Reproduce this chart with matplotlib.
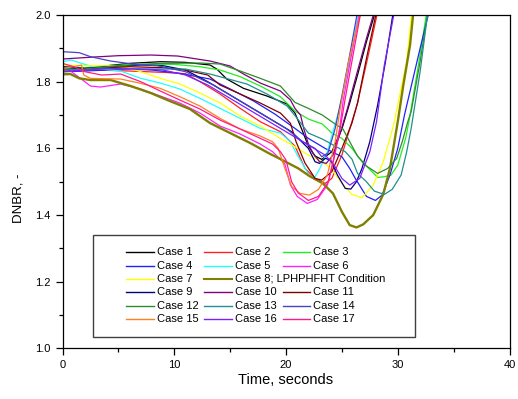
#!/usr/bin/env python3
"""
DNBR transient for the 17 analysed cases.
"""
import matplotlib

matplotlib.use("Agg")
import matplotlib.pyplot as plt
from matplotlib.lines import Line2D
from matplotlib.patches import Rectangle
from matplotlib.ticker import MultipleLocator

plt.rcParams["font.family"] = ["Liberation Sans", "DejaVu Sans"]

# values (time in s, DNBR)
case1_t = [0, 2, 4, 6, 8.8, 11, 13.2, 13.8, 14.7, 16.2, 18.3, 20.1, 20.8, 21.4, 22.0, 22.6, 23.2, 24.1, 25.0, 25.7, 26.4, 27.2, 28.0]
case1_d = [1.842, 1.838, 1.848, 1.855, 1.860, 1.858, 1.850, 1.838, 1.808, 1.780, 1.757, 1.733, 1.706, 1.658, 1.607, 1.577, 1.567, 1.590, 1.658, 1.736, 1.820, 1.920, 2.010]

case2_t = [0, 3, 6, 9, 11, 12.3, 14.1, 15.9, 17.7, 19.5, 20.8, 21.7, 22.6, 23.5, 24.1, 25.0, 25.7, 26.4, 27.3, 28.2]
case2_d = [1.830, 1.835, 1.832, 1.828, 1.824, 1.800, 1.763, 1.720, 1.680, 1.650, 1.607, 1.540, 1.510, 1.495, 1.510, 1.580, 1.658, 1.736, 1.870, 2.010]

case3_t = [0, 2, 4, 7, 10, 12.3, 14.1, 15.9, 17.7, 19.5, 20.8, 22.0, 23.25, 24.1, 25.0, 25.9, 26.8, 27.7, 28.2, 28.8, 29.4, 30.0, 30.7, 31.0, 31.8, 32.6]
case3_d = [1.845, 1.842, 1.848, 1.852, 1.852, 1.845, 1.835, 1.815, 1.787, 1.755, 1.712, 1.688, 1.673, 1.646, 1.630, 1.600, 1.560, 1.530, 1.513, 1.515, 1.520, 1.550, 1.630, 1.680, 1.840, 2.010]

case4_t = [0, 2, 4, 6, 8, 10.5, 13.2, 14.9, 17.1, 19.0, 20.8, 22.0, 23.5, 25.0, 25.7, 26.2, 27.2, 28.0, 28.6, 29.3, 30.0, 30.6, 31.3, 32.0, 32.8]
case4_d = [1.830, 1.832, 1.835, 1.838, 1.835, 1.825, 1.808, 1.780, 1.742, 1.703, 1.660, 1.630, 1.600, 1.575, 1.540, 1.510, 1.456, 1.444, 1.460, 1.520, 1.600, 1.700, 1.800, 1.900, 2.010]

case5_t = [0, 0.8, 1.6, 3.4, 5.2, 7.0, 8.75, 10.5, 12.3, 14.1, 15.9, 17.7, 19.5, 20.4, 21.0, 21.5, 22.1, 22.6, 23.0, 23.7, 24.2, 24.8, 25.7, 26.5]
case5_d = [1.860, 1.865, 1.856, 1.838, 1.832, 1.810, 1.796, 1.778, 1.750, 1.720, 1.690, 1.660, 1.646, 1.620, 1.580, 1.553, 1.517, 1.515, 1.538, 1.590, 1.650, 1.720, 1.860, 2.010]

case6_t = [0, 0.8, 1.6, 2.5, 3.4, 5.2, 7.0, 8.75, 10.5, 12.3, 14.1, 15.9, 17.7, 18.8, 19.5, 19.9, 20.4, 21.0, 21.9, 22.8, 23.7, 24.2, 24.8, 25.1, 25.8, 26.6]
case6_d = [1.845, 1.830, 1.810, 1.787, 1.784, 1.793, 1.778, 1.757, 1.736, 1.706, 1.667, 1.643, 1.613, 1.590, 1.567, 1.553, 1.490, 1.456, 1.435, 1.447, 1.490, 1.560, 1.660, 1.740, 1.870, 2.010]

case7_t = [0, 2, 5.2, 7.0, 8.75, 10.5, 12.3, 14.1, 15.9, 17.7, 19.5, 20.8, 22.0, 23.25, 24.1, 25.0, 25.9, 26.8, 27.8, 28.7, 29.3, 29.7, 30.3, 30.8, 31.25]
case7_d = [1.850, 1.848, 1.847, 1.830, 1.810, 1.793, 1.766, 1.736, 1.697, 1.667, 1.630, 1.605, 1.580, 1.560, 1.537, 1.495, 1.462, 1.452, 1.490, 1.560, 1.630, 1.680, 1.780, 1.860, 2.010]

case8_t = [0, 0.7, 1.5, 2.5, 4.3, 6.1, 7.9, 9.6, 11.4, 13.2, 15.0, 16.8, 18.6, 19.5, 21.1, 22.1, 23.3, 24.2, 25.0, 25.7, 26.3, 26.9, 27.8, 28.7, 29.3, 29.7, 30.0, 30.5, 31.1, 31.4]
case8_d = [1.822, 1.823, 1.810, 1.805, 1.805, 1.787, 1.766, 1.742, 1.718, 1.676, 1.646, 1.616, 1.583, 1.568, 1.540, 1.517, 1.495, 1.465, 1.410, 1.370, 1.363, 1.372, 1.400, 1.462, 1.540, 1.620, 1.680, 1.790, 1.910, 2.010]

case9_t = [0, 2, 4, 7, 9, 11, 13, 14.5, 16.5, 18.5, 20.5, 22.0, 22.6, 23.0, 23.5, 24.0, 24.6, 25.3, 25.8, 26.3, 26.8, 27.5, 28.2, 28.9, 29.6]
case9_d = [1.845, 1.840, 1.845, 1.850, 1.848, 1.835, 1.800, 1.770, 1.730, 1.690, 1.650, 1.600, 1.560, 1.555, 1.570, 1.565, 1.520, 1.480, 1.478, 1.500, 1.540, 1.620, 1.730, 1.860, 2.010]

case10_t = [0, 2.8, 5, 7.9, 10.3, 13.2, 15.0, 16.2, 17.7, 19.5, 20.4, 20.8, 21.3, 21.6, 22.0, 22.4, 23.0, 23.6, 24.2, 24.8, 25.5, 26.3, 27.2, 27.9]
case10_d = [1.868, 1.874, 1.878, 1.880, 1.877, 1.862, 1.847, 1.823, 1.796, 1.772, 1.745, 1.720, 1.700, 1.658, 1.613, 1.586, 1.560, 1.555, 1.580, 1.640, 1.720, 1.820, 1.930, 2.010]

case11_t = [0, 3, 6, 9, 11, 13, 14.1, 15.9, 17.7, 19.5, 20.4, 20.9, 21.7, 22.6, 23.2, 24.1, 25.0, 25.9, 26.4, 27.2, 28.1]
case11_d = [1.835, 1.840, 1.845, 1.842, 1.835, 1.820, 1.790, 1.763, 1.736, 1.706, 1.675, 1.620, 1.556, 1.510, 1.505, 1.530, 1.600, 1.676, 1.736, 1.870, 2.010]

case12_t = [0, 2, 4, 6, 8.8, 12.3, 14.1, 15.9, 17.7, 19.5, 20.8, 22.0, 23.25, 24.4, 25.1, 25.7, 26.4, 27.2, 28.2, 29.1, 29.9, 30.4, 30.9, 31.2, 32.0, 32.7]
case12_d = [1.835, 1.838, 1.845, 1.850, 1.855, 1.856, 1.853, 1.832, 1.810, 1.787, 1.738, 1.720, 1.700, 1.673, 1.658, 1.620, 1.577, 1.547, 1.525, 1.540, 1.570, 1.620, 1.680, 1.710, 1.860, 2.010]

case13_t = [0, 2, 4, 8.8, 11, 13.2, 16.5, 18.3, 20.1, 21.0, 22.0, 23.25, 24.4, 25.3, 25.9, 26.4, 27.2, 27.9, 28.8, 29.5, 30.3, 30.8, 31.2, 32.0, 32.7]
case13_d = [1.840, 1.835, 1.838, 1.838, 1.838, 1.823, 1.793, 1.763, 1.727, 1.690, 1.646, 1.628, 1.607, 1.590, 1.568, 1.525, 1.500, 1.472, 1.462, 1.477, 1.520, 1.590, 1.660, 1.830, 2.010]

case14_t = [0, 1.5, 2.5, 4.3, 6.5, 8.5, 11, 13.5, 16, 18, 20, 21.5, 22.6, 23.2, 23.75, 24.4, 25.0, 25.7, 26.4]
case14_d = [1.890, 1.887, 1.875, 1.862, 1.852, 1.848, 1.830, 1.790, 1.740, 1.700, 1.660, 1.620, 1.600, 1.575, 1.586, 1.660, 1.757, 1.880, 2.010]

case15_t = [0, 1.0, 1.7, 1.9, 2.5, 5.2, 7.0, 8.75, 10.5, 12.3, 14.1, 15.9, 17.7, 18.8, 19.3, 19.9, 20.5, 21.25, 22.1, 22.9, 23.7, 24.4, 24.8, 25.6, 26.7]
case15_d = [1.840, 1.845, 1.850, 1.820, 1.810, 1.808, 1.795, 1.780, 1.755, 1.727, 1.690, 1.658, 1.637, 1.620, 1.600, 1.540, 1.486, 1.465, 1.460, 1.477, 1.520, 1.620, 1.710, 1.860, 2.010]

case16_t = [0, 2, 4, 7, 9, 11, 13, 15, 17, 19, 21, 22.5, 23.5, 24.3, 25.0, 25.7, 26.6, 27.5, 28.1, 28.8, 29.7]
case16_d = [1.830, 1.835, 1.840, 1.838, 1.835, 1.820, 1.790, 1.750, 1.710, 1.670, 1.630, 1.600, 1.580, 1.550, 1.510, 1.490, 1.510, 1.590, 1.680, 1.850, 2.010]

case17_t = [0, 1, 2, 3.5, 5.2, 7.0, 8.75, 10.5, 12.3, 14.1, 15.9, 17.7, 18.8, 19.5, 20.0, 20.5, 21.1, 22.0, 22.9, 23.8, 24.3, 24.9, 25.3, 26.0, 26.7]
case17_d = [1.855, 1.845, 1.830, 1.820, 1.823, 1.800, 1.772, 1.745, 1.718, 1.685, 1.658, 1.630, 1.613, 1.590, 1.565, 1.500, 1.466, 1.444, 1.456, 1.500, 1.570, 1.670, 1.750, 1.880, 2.010]

labels = ["Case 1", "Case 2", "Case 3", "Case 4", "Case 5", "Case 6", "Case 7",
          "Case 8; LPHPHFHT Condition", "Case 9", "Case 10", "Case 11", "Case 12",
          "Case 13", "Case 14", "Case 15", "Case 16", "Case 17"]
colors = ["#000000", "#ff2020", "#20ee20", "#2020ff", "#20ffff", "#ff20ff", "#ffff00",
          "#808000", "#000080", "#800080", "#800000", "#2e8b2e",
          "#1f8f8f", "#4545c8", "#ff8020", "#8020ff", "#ff1a8c"]

times = [case1_t, case2_t, case3_t, case4_t, case5_t, case6_t, case7_t, case8_t, case9_t,
         case10_t, case11_t, case12_t, case13_t, case14_t, case15_t, case16_t, case17_t]
dnbrs = [case1_d, case2_d, case3_d, case4_d, case5_d, case6_d, case7_d, case8_d, case9_d,
         case10_d, case11_d, case12_d, case13_d, case14_d, case15_d, case16_d, case17_d]

if __name__ == "__main__":
    fig = plt.figure(figsize=(5.18, 3.99), dpi=100)
    ax = fig.add_axes([0.1207, 0.1266, 0.8629, 0.8358])

    for t, d, c, name in zip(times, dnbrs, colors, labels):
        lw = 1.7 if name.startswith("Case 8") else 0.9
        ax.plot(t, d, color=c, lw=lw)

    ax.set_xlim(0, 40)
    ax.set_ylim(1.0, 2.0)
    ax.xaxis.set_major_locator(MultipleLocator(10))
    ax.xaxis.set_minor_locator(MultipleLocator(5))
    ax.yaxis.set_major_locator(MultipleLocator(0.2))
    ax.yaxis.set_minor_locator(MultipleLocator(0.1))
    ax.tick_params(which="both", direction="out", top=False, right=False,
                   labelsize=8, width=0.9, pad=3.5)
    ax.tick_params(which="major", length=5)
    ax.tick_params(which="minor", length=3)
    for s in ax.spines.values():
        s.set_linewidth(0.9)

    ax.set_xlabel("Time, seconds", fontsize=10.5)
    ax.set_ylabel("DNBR, -", fontsize=9.5)
    ax.xaxis.set_label_coords(0.5, -0.075)
    ax.yaxis.set_label_coords(-0.085, 0.45)

    # legend laid out by hand: 3 columns, row 3 holds only two entries
    ax.add_patch(Rectangle((0.0688, 0.0354), 0.7198, 0.3049, transform=ax.transAxes,
                           facecolor="white", edgecolor="#404040", lw=1.0, zorder=5))
    col_x = [0.1421, 0.3166, 0.4926]
    for i, (name, c) in enumerate(zip(labels, colors)):
        slot = i if i < 8 else i + 1
        row, col = divmod(slot, 3)
        x = col_x[col]
        y = 0.2884 - 0.040 * row
        lw = 1.5 if name.startswith("Case 8") else 1.0
        ax.add_line(Line2D([x, x + 0.062], [y, y], transform=ax.transAxes,
                           color=c, lw=lw, zorder=6))
        ax.text(x + 0.0686, y, name, transform=ax.transAxes, fontsize=8,
                va="center", ha="left", zorder=6)

    fig.savefig("out.png", dpi=100)
